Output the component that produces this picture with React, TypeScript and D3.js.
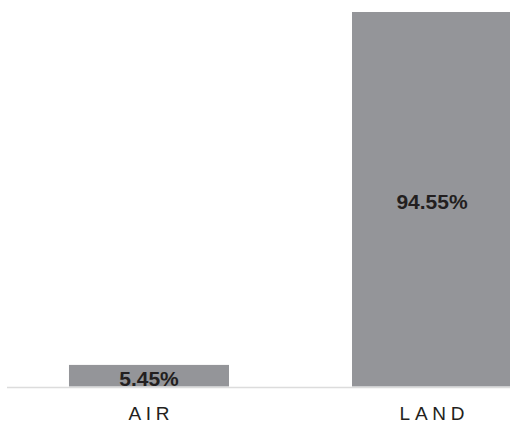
import React from "react";
import * as d3 from "d3";

const categories = ["AIR", "LAND"];
const values = [5.45, 94.55];
const valueLabels = ["5.45%", "94.55%"];

const W = 510;
const H = 425;
const baseY = 386.5;
const topY = 12;

export default function App() {
  const x = d3
    .scaleBand<string>()
    .domain(categories)
    .range([7, 574])
    .paddingInner(0.4346)
    .paddingOuter(0.219);
  const y = d3.scaleLinear().domain([0, 94.55]).range([baseY, topY]);
  const font = "'Liberation Sans', Arial, Helvetica, sans-serif";
  const ls = 4.7;
  return (
    <svg
      width={W}
      height={H}
      style={{ position: "absolute", left: 0, top: 0, background: "#fff" }}
    >
      {categories.map((c, i) => {
        const x0 = x(c)!;
        const bw = x.bandwidth();
        const yTop = y(values[i]);
        const cx = x0 + bw / 2;
        const cy = (yTop + baseY) / 2 + 2.5;
        return (
          <g key={c}>
            <rect x={x0} y={yTop} width={bw} height={baseY - yTop} fill="#949599" />
            <text
              x={cx}
              y={cy}
              dy="0.36em"
              textAnchor="middle"
              fontFamily={font}
              fontWeight="bold"
              fontSize={21}
              fill="#231f20"
            >
              {valueLabels[i]}
            </text>
            <text
              x={cx + ls / 2}
              y={420}
              textAnchor="middle"
              fontFamily={font}
              fontSize={19}
              letterSpacing={ls}
              fill="#231f20"
            >
              {c}
            </text>
          </g>
        );
      })}
      <line x1={7} x2={W} y1={387.5} y2={387.5} stroke="#dcdcdc" strokeWidth={1.5} />
    </svg>
  );
}
